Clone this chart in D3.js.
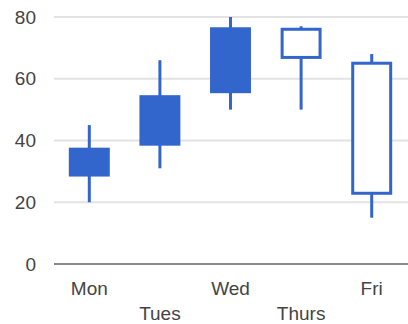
<!DOCTYPE html>
<html><head><meta charset="utf-8">
<script src="https://cdn.jsdelivr.net/npm/d3@7"></script>
<style>body{margin:0;background:#fff}svg{display:block}</style>
</head><body>
<svg id="c" width="408" height="324"></svg>
<script>
const categories = ["Mon","Tues","Wed","Thurs","Fri"];
const low   = [20, 31, 50, 77, 68];
const open  = [28, 38, 55, 77, 66];
const close = [38, 55, 77, 66, 22];
const high  = [45, 66, 80, 50, 15];
const yTicks = [0, 20, 40, 60, 80];

const svg = d3.select("#c");
const x = d3.scaleBand().domain(categories).range([54, 407]).paddingInner(0.42).paddingOuter(0.21);
const y = d3.scaleLinear().domain([0, 80]).range([264, 17]);
const color = "#3366cc";

// gridlines
svg.append("g").selectAll("line").data(yTicks.filter(d => d !== 0)).join("line")
  .attr("x1", 54).attr("x2", 408)
  .attr("y1", d => y(d)).attr("y2", d => y(d))
  .attr("stroke", "#e3e3e3").attr("stroke-width", 2);

// y axis labels
const yAxis = d3.axisLeft(y).tickValues(yTicks).tickSize(0).tickPadding(0);
const gy = svg.append("g").attr("transform", "translate(36,0)").call(yAxis);
gy.select(".domain").remove();
gy.selectAll("text").attr("font-family", "Liberation Sans, Arial, sans-serif")
  .attr("font-size", 19).attr("fill", "#444");

// x axis labels (staggered)
const xAxis = d3.axisBottom(x).tickSize(0).tickPadding(0);
const gx = svg.append("g").call(xAxis);
gx.select(".domain").remove();
gx.selectAll("text")
  .attr("font-family", "Liberation Sans, Arial, sans-serif")
  .attr("font-size", 19).attr("fill", "#444")
  .attr("dy", null)
  .attr("y", (d, i) => i % 2 === 0 ? 295 : 320);

// candles
const data = categories.map((c, i) => ({c, low: low[i], open: open[i], close: close[i], high: high[i]}));
const g = svg.append("g");
data.forEach(d => {
  const cx = x(d.c) + x.bandwidth() / 2;
  const lo = Math.min(d.low, d.high), hi = Math.max(d.low, d.high);
  g.append("line").attr("x1", cx).attr("x2", cx)
    .attr("y1", y(hi)).attr("y2", y(lo))
    .attr("stroke", color).attr("stroke-width", 3);
  const top = Math.max(d.open, d.close), bot = Math.min(d.open, d.close);
  const rising = d.close > d.open;
  if (rising) {
    g.append("rect").attr("x", x(d.c)).attr("width", x.bandwidth())
      .attr("y", y(top) + 1).attr("height", y(bot) - y(top) - 2)
      .attr("fill", color);
  } else {
    g.append("rect").attr("x", x(d.c) + 1.5).attr("width", x.bandwidth() - 3)
      .attr("y", y(top) + 3).attr("height", y(bot) - y(top) - 5.8)
      .attr("fill", "#fff").attr("stroke", color).attr("stroke-width", 3);
  }
});

// baseline
svg.append("line").attr("x1", 54).attr("x2", 408)
  .attr("y1", y(0)).attr("y2", y(0))
  .attr("stroke", "#8a8a8a").attr("stroke-width", 2);
</script>
</body></html>
